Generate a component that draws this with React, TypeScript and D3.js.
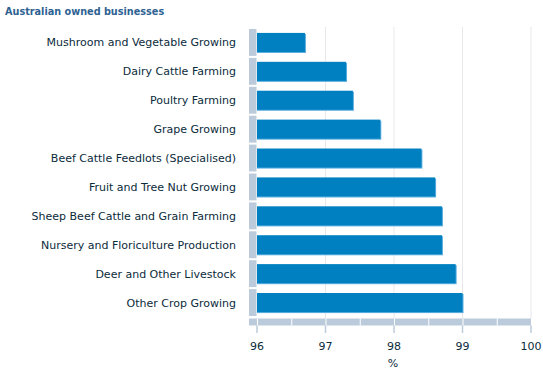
import React from 'react';
import * as d3 from 'd3';

const categories = [
  'Mushroom and Vegetable Growing',
  'Dairy Cattle Farming',
  'Poultry Farming',
  'Grape Growing',
  'Beef Cattle Feedlots (Specialised)',
  'Fruit and Tree Nut Growing',
  'Sheep Beef Cattle and Grain Farming',
  'Nursery and Floriculture Production',
  'Deer and Other Livestock',
  'Other Crop Growing',
];
const values = [96.7, 97.3, 97.4, 97.8, 98.4, 98.6, 98.7, 98.7, 98.9, 99.0];
const xTicks = [96, 97, 98, 99, 100];
const stripTicks = [96, 96.5, 97, 97.5, 98, 98.5, 99, 99.5, 100];

const W = 543;
const H = 369;
const left = 257;
const right = 531;
const top = 28;
const bottom = 317;

const textColor = '#0b2b3b';
const barColor = '#0080c0';
const greyBox = '#bccbdb';
const font = 'Verdana, "DejaVu Sans", sans-serif';

export default function App() {
  const x = d3.scaleLinear().domain([96, 100]).range([left, right]);
  const row = d3.scaleBand<string>().domain(categories).range([top, bottom]).paddingInner(0.07).paddingOuter(0.035);
  const bar = d3.scaleBand<string>().domain(categories).range([top, bottom]).paddingInner(0.34).paddingOuter(0.17);

  const stripTop = 318.5;
  const stripH = 7;

  return (
    <svg width={W} height={H} style={{ position: 'absolute', left: 0, top: 0, background: '#fff' }} fontFamily={font}>
      <text x={5} y={15} fontSize={9.7} fontWeight="bold" fill="#2e6293">Australian owned businesses</text>

      {/* grid lines */}
      {xTicks.slice(1).map(t => (
        <line key={t} x1={x(t)} x2={x(t)} y1={27} y2={stripTop} stroke="#e8e8ec" strokeWidth={1} />
      ))}

      {/* left grey boxes */}
      {categories.map(c => (
        <rect key={c} x={249} y={row(c)} width={left - 249 - 0.5} height={row.bandwidth()} fill={greyBox} />
      ))}

      {/* bars */}
      {categories.map((c, i) => (
        <g key={c}>
          <rect x={x(96)} y={(bar(c) as number) + 1} width={x(values[i]) - x(96) + 1} height={bar.bandwidth()} fill="#5aaee0" />
          <rect x={x(96)} y={bar(c)} width={x(values[i]) - x(96)} height={bar.bandwidth()} fill={barColor} />
        </g>
      ))}

      {/* bottom strip */}
      <rect x={249} y={stripTop} width={right - 249} height={stripH} fill={greyBox} />
      {stripTicks.slice(0, -1).map(t => (
        <line key={t} x1={x(t) + 0.5} x2={x(t) + 0.5} y1={stripTop} y2={stripTop + stripH} stroke="#fff" strokeWidth={1} />
      ))}

      {/* ticks */}
      {xTicks.map(t => (
        <g key={t}>
          <line x1={x(t)} x2={x(t)} y1={stripTop + stripH} y2={333} stroke={greyBox} strokeWidth={1.5} />
          <text x={x(t)} y={350} fontSize={11} textAnchor="middle" fill={textColor}>{t}</text>
        </g>
      ))}

      {/* category labels */}
      {categories.map(c => (
        <text key={c} x={236} y={(row(c) as number) + row.bandwidth() / 2 + 4} fontSize={11} textAnchor="end" fill={textColor}>{c}</text>
      ))}

      <text x={393} y={367} fontSize={11} textAnchor="middle" fill={textColor}>%</text>
    </svg>
  );
}
